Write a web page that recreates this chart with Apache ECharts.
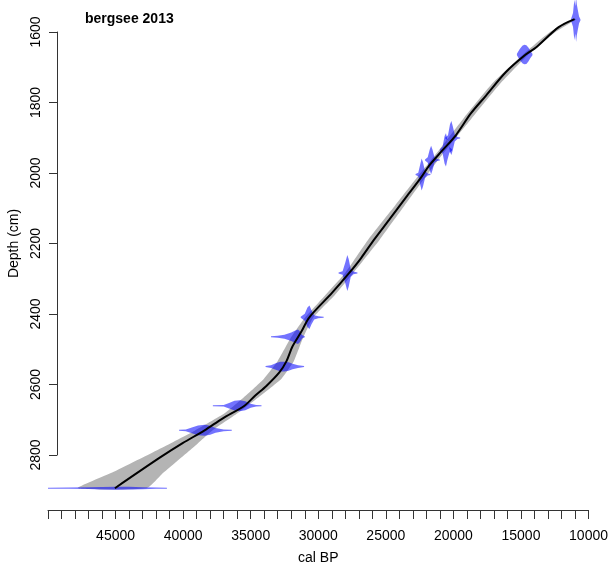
<!DOCTYPE html>
<html><head><meta charset="utf-8">
<script src="https://cdn.jsdelivr.net/npm/echarts@6/dist/echarts.min.js"></script>
<style>html,body{margin:0;padding:0;background:#fff}#c{width:611px;height:570px}</style>
</head><body><div id="c"></div>
<script>
const titleText = 'bergsee 2013';
const xName = 'cal BP';
const yName = 'Depth (cm)';
const xLabelValues = [45000, 40000, 35000, 30000, 25000, 20000, 15000, 10000];
const yTickValues = [1600, 1800, 2000, 2200, 2400, 2600, 2800];

// mean age-depth curve
const lineDepth = [1563, 1586, 1643, 1665, 1716, 1784, 1835, 1898, 1943, 1986, 2020, 2077, 2142, 2199, 2252, 2295, 2352, 2423, 2465, 2508, 2550, 2582, 2621, 2650, 2678, 2715, 2749, 2786, 2828, 2916];
const lineAge = [11030, 12210, 13840, 14650, 16130, 17600, 18710, 19820, 20850, 21810, 22400, 23510, 24760, 25870, 26830, 27710, 28970, 30660, 31260, 31920, 32360, 32880, 33840, 34700, 35460, 37090, 38410, 40040, 41730, 45050];

// grey uncertainty envelope
const envDepth = [1563, 1600, 1665, 1750, 1850, 1950, 2020, 2100, 2200, 2295, 2360, 2423, 2480, 2550, 2600, 2650, 2700, 2750, 2800, 2871, 2916];
const envOld = [11100, 12850, 14850, 17160, 19270, 21250, 22700, 24300, 26320, 28010, 29500, 30960, 32000, 33010, 34020, 35400, 36930, 39140, 41600, 45250, 47790];
const envYoung = [10900, 12450, 14450, 16560, 18670, 20750, 22100, 23600, 25470, 27410, 28800, 30360, 31100, 31810, 32720, 34300, 35980, 37850, 39300, 41450, 42690];

// calibrated dates: depth, ages, half-heights (cm)
const dateDepth = [1565, 1665, 2011, 1969, 1940, 1906, 2295, 2423, 2479, 2565, 2678, 2749, 2916];
const dateAges = [
  [11300, 11150, 11050, 10980, 10920, 10870, 10800, 10700, 10600],
  [15300, 15100, 14900, 14750, 14600, 14450, 14300, 14150],
  [22800, 22600, 22450, 22350, 22250, 22100, 21900, 21700],
  [22100, 21900, 21750, 21650, 21550, 21400, 21200, 21000],
  [21000, 20800, 20650, 20550, 20450, 20300, 20100],
  [20600, 20400, 20250, 20150, 20050, 19900, 19700, 19500],
  [28500, 28200, 28000, 27850, 27750, 27600, 27400, 27100],
  [31300, 31000, 30800, 30650, 30500, 30300, 30000, 29600],
  [33500, 33000, 32500, 32000, 31700, 31500, 31350, 31200, 31000],
  [33900, 33500, 33100, 32800, 32500, 32200, 31900, 31500, 31050],
  [37800, 37000, 36600, 36200, 35800, 35400, 35000, 34600, 34200],
  [40300, 39800, 39300, 38900, 38400, 38000, 37600, 37000, 36400],
  [50000, 48500, 47000, 46000, 45000, 44000, 43000, 42000, 41200]
];
const dateHalf = [
  [2, 20, 58, 40, 64, 45, 30, 10, 2],
  [2, 15, 25, 28, 27, 20, 10, 2],
  [1.5, 5, 30, 46, 35, 10, 3, 1.5],
  [1.5, 8, 30, 41, 30, 8, 3, 1.5],
  [1.5, 10, 40, 48, 30, 8, 1.5],
  [1.5, 8, 40, 49, 35, 10, 3, 1.5],
  [1.5, 5, 30, 52, 40, 12, 4, 1.5],
  [1.5, 10, 28, 34, 20, 6, 3, 1.5],
  [1.5, 3, 6, 12, 18, 21, 15, 5, 1.5],
  [1.5, 4, 10, 14, 14, 12, 8, 4, 1.5],
  [1.5, 2, 8, 14, 16, 13, 6, 2, 1.5],
  [1.5, 2.5, 9, 14, 16, 13, 7, 2.5, 1.5],
  [1.5, 1.8, 2.5, 3.5, 4.5, 4, 3, 1.8, 1.5]
];

const FONT = '"Liberation Sans", Arial, Helvetica, sans-serif';
const chart = echarts.init(document.getElementById('c'), null, {renderer: 'canvas'});

chart.setOption({
  animation: false,
  backgroundColor: '#fff',
  title: {
    text: titleText, left: 85, top: 12, padding: 0,
    textStyle: {fontFamily: FONT, fontSize: 14, fontWeight: 'bold', color: '#000'}
  },
  grid: [
    {left: 48, right: 21, top: 32, height: 423},
    {left: 57, width: 10, top: 32, height: 423}
  ],
  xAxis: [
    {
      gridIndex: 0, type: 'value', min: 10000, max: 50000, interval: 1000, inverse: true,
      offset: 62,
      name: xName, nameLocation: 'middle', nameGap: 41,
      nameTextStyle: {fontFamily: FONT, fontSize: 14, color: '#000'},
      axisLine: {show: true, lineStyle: {color: '#333', width: 1}},
      axisTick: {show: true, length: 9, lineStyle: {color: '#333', width: 1}},
      axisLabel: {
        interval: 0, margin: 19, fontFamily: FONT, fontSize: 14, color: '#000',
        showMinLabel: true, showMaxLabel: true,
        formatter: v => xLabelValues.includes(v) ? String(v) : ''
      },
      splitLine: {show: false}
    },
    {gridIndex: 1, type: 'value', min: 0, max: 1, show: false}
  ],
  yAxis: [
    {gridIndex: 0, type: 'value', min: 1600, max: 2800, inverse: true, show: false},
    {
      gridIndex: 1, type: 'value', min: 1600, max: 2800, interval: 200, inverse: true,
      name: yName, nameLocation: 'middle', nameGap: 36, nameRotate: 90,
      nameTextStyle: {fontFamily: FONT, fontSize: 14, color: '#000'},
      axisLine: {show: true, lineStyle: {color: '#333', width: 1}},
      axisTick: {show: true, length: 8, lineStyle: {color: '#333', width: 1}},
      axisLabel: {
        rotate: 90, margin: 14, fontFamily: FONT, fontSize: 14, color: '#000',
        formatter: v => yTickValues.includes(v) ? String(v) : ''
      },
      splitLine: {show: false}
    }
  ],
  series: [
    {
      type: 'custom', xAxisIndex: 0, yAxisIndex: 0, clip: false, silent: true,
      data: [[envOld[0], envDepth[0]]],
      renderItem: function (params, api) {
        const pts = [];
        for (let i = 0; i < envDepth.length; i++) pts.push(api.coord([envOld[i], envDepth[i]]));
        for (let i = envDepth.length - 1; i >= 0; i--) pts.push(api.coord([envYoung[i], envDepth[i]]));
        return {type: 'polygon', shape: {points: pts, smooth: 0.15}, style: {fill: '#b4b4b4', stroke: null}};
      }
    },
    {
      type: 'line', xAxisIndex: 0, yAxisIndex: 0, clip: false, silent: true,
      showSymbol: false, smooth: 0.3,
      data: lineAge.map((a, i) => [a, lineDepth[i]]),
      lineStyle: {color: '#000', width: 2}
    },
    {
      type: 'custom', xAxisIndex: 0, yAxisIndex: 0, clip: false, silent: true,
      data: dateDepth.map((d, i) => [dateAges[i][0], d]),
      renderItem: function (params, api) {
        const k = params.dataIndex;
        const ages = dateAges[k], hh = dateHalf[k], d = dateDepth[k];
        const pts = [];
        for (let j = 0; j < ages.length; j++) pts.push(api.coord([ages[j], d - hh[j]]));
        for (let j = ages.length - 1; j >= 0; j--) pts.push(api.coord([ages[j], d + hh[j]]));
        return {type: 'polygon', shape: {points: pts}, style: {fill: 'rgba(0,0,255,0.55)', stroke: null}};
      }
    }
  ]
});
</script>
</body></html>
